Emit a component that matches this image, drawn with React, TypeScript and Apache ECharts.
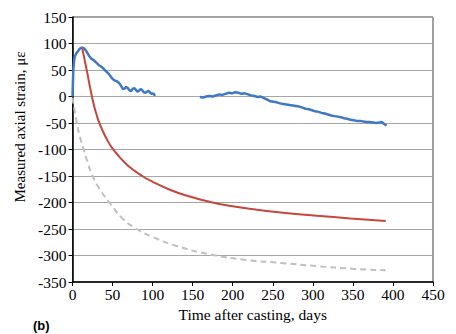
import React, { useEffect, useRef } from "react";
import * as echarts from "echarts";

const xTicks = [0, 50, 100, 150, 200, 250, 300, 350, 400, 450];
const yTicks = [-350, -300, -250, -200, -150, -100, -50, 0, 50, 100, 150];

const measuredEarlyDays = [0, 0.5, 1, 2, 3, 5, 7, 9, 11, 13, 15, 17, 19, 21, 23, 25, 27, 29, 31, 33, 35, 37, 39, 41, 43, 45, 47, 49, 51, 53, 55, 57, 59, 61, 63, 65, 67, 69, 71, 73, 75, 77, 79, 81, 83, 85, 87, 89, 91, 93, 95, 97, 99, 101, 103];
const measuredEarlyStrain = [0, 25, 50, 68, 76, 82, 86, 90, 92, 92, 90, 86, 81, 76, 72, 70, 68, 65, 62, 59, 57, 55, 52, 49, 46, 43, 39, 35, 32, 30, 29, 27, 24, 19, 14, 15, 18, 16, 12, 10, 14, 16, 13, 9, 11, 14, 12, 8, 7, 9, 11, 7, 5, 6, 1];

const measuredLateDays = [159, 163, 167, 171, 175, 179, 183, 187, 191, 195, 199, 203, 207, 211, 215, 219, 223, 227, 231, 235, 239, 243, 247, 251, 255, 259, 263, 267, 271, 275, 279, 283, 287, 291, 295, 299, 303, 307, 311, 315, 319, 323, 327, 331, 335, 339, 343, 347, 351, 355, 359, 363, 367, 371, 375, 379, 383, 386, 389, 392];
const measuredLateStrain = [-1, -2, 0, 1, 0, 2, 4, 3, 5, 7, 6, 8, 7, 5, 6, 4, 2, 1, -1, 0, -3, -6, -9, -10, -11, -13, -14, -15, -16, -17, -18, -19, -21, -23, -24, -26, -28, -29, -31, -32, -34, -36, -37, -38, -39, -41, -42, -44, -45, -46, -46, -47, -48, -48, -49, -50, -49, -48, -52, -55];

const modelDays = [12, 15, 18, 21, 24, 27, 30, 33, 38, 43, 49, 58, 69, 86, 100, 120, 140, 172, 200, 221, 260, 305, 347, 391];
const modelStrain = [92, 70, 48, 24, 2, -18, -34, -48, -66, -81, -96, -113, -130, -149, -161, -175, -186, -199, -207, -212, -219, -225, -230, -235];

const refDays = [0, 1, 2.5, 5.5, 9, 14, 19, 25, 34, 46, 63, 78, 100, 130, 172, 221, 260, 305, 350, 391];
const refStrain = [-2, -12, -25, -50, -75, -100, -125, -150, -175, -200, -231, -248, -265, -282, -298, -309, -314, -320, -325, -328];

const zip = (a: number[], b: number[]) => a.map((v, i) => [v, b[i]]);

export default function App() {
  const ref = useRef<HTMLDivElement>(null);
  useEffect(() => {
    if (!ref.current) return;
    const chart = echarts.init(ref.current, undefined, { renderer: "svg" });
    const font = "Liberation Serif";
    const xMin = xTicks[0];
    const yMin = yTicks[0];
    chart.setOption({
      animation: false,
      backgroundColor: "#ffffff",
      textStyle: { fontFamily: font },
      grid: {
        left: 72.5,
        right: 23,
        top: 17,
        bottom: 52,
        show: true,
        borderColor: "#404040",
        borderWidth: 1,
      },
      xAxis: {
        type: "value",
        min: xMin,
        max: xTicks[xTicks.length - 1],
        interval: 50,
        name: "Time after casting, days",
        nameLocation: "middle",
        nameGap: 24,
        nameTextStyle: { fontFamily: font, fontSize: 15.5, color: "#000" },
        axisLine: { show: true, onZero: false, lineStyle: { color: "#000", width: 1.5 } },
        axisTick: { show: true, length: 4, lineStyle: { color: "#000" } },
        axisLabel: { show: false },
        splitLine: { show: false },
      },
      yAxis: {
        type: "value",
        min: yMin,
        max: yTicks[yTicks.length - 1],
        interval: 50,
        axisLine: { show: true, onZero: false, lineStyle: { color: "#000", width: 1.5 } },
        axisTick: { show: true, length: 4, lineStyle: { color: "#000" } },
        axisLabel: { show: false },
        splitLine: { show: true, lineStyle: { color: "#a6a6a6", width: 1.2 } },
      },
      series: [
        {
          type: "line",
          data: zip(refDays, refStrain),
          showSymbol: false,
          smooth: 0.5,
          lineStyle: { color: "#c0c0c0", width: 2, type: [6, 4] },
        },
        {
          type: "line",
          data: zip(measuredEarlyDays, measuredEarlyStrain),
          showSymbol: false,
          lineStyle: { color: "#3f78c6", width: 2.5 },
        },
        {
          type: "line",
          data: zip(measuredLateDays, measuredLateStrain),
          showSymbol: false,
          lineStyle: { color: "#3f78c6", width: 2.5 },
        },
        {
          type: "line",
          data: zip(modelDays, modelStrain),
          showSymbol: false,
          smooth: 0.5,
          lineStyle: { color: "#c7463d", width: 2 },
        },
      ],
    });

    const tickFont = 15.5;
    const graphics: any[] = [];
    xTicks.forEach((t) => {
      const p = chart.convertToPixel({ gridIndex: 0 }, [t, yMin]) as number[];
      graphics.push({
        type: "text",
        x: p[0],
        y: p[1] + 4,
        style: {
          text: String(t),
          fontFamily: font,
          fontSize: tickFont,
          fill: "#000",
          align: "center",
          verticalAlign: "top",
        },
      });
    });
    yTicks.forEach((t) => {
      const p = chart.convertToPixel({ gridIndex: 0 }, [xMin, t]) as number[];
      graphics.push({
        type: "text",
        x: p[0] - 6,
        y: p[1],
        style: {
          text: String(t),
          fontFamily: font,
          fontSize: tickFont,
          fill: "#000",
          align: "right",
          verticalAlign: "middle",
        },
      });
    });
    graphics.push(
      {
        type: "text",
        x: 20,
        y: 127,
        rotation: Math.PI / 2,
        style: {
          text: "Measured axial strain, με",
          fontFamily: font,
          fontSize: 15,
          fill: "#000",
          align: "center",
          verticalAlign: "middle",
        },
      },
      {
        type: "text",
        x: 33,
        y: 325,
        style: {
          text: "(b)",
          fontFamily: "Liberation Sans",
          fontWeight: "bold",
          fontSize: 13,
          fill: "#000",
          align: "left",
          verticalAlign: "middle",
        },
      }
    );
    chart.setOption({ graphic: graphics });
    return () => chart.dispose();
  }, []);
  return <div ref={ref} style={{ width: 456, height: 334, position: "absolute", left: 0, top: 0 }} />;
}
